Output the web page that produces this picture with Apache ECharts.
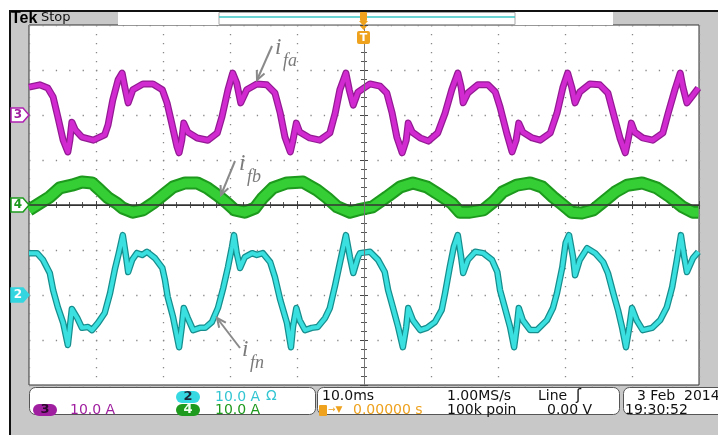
<!DOCTYPE html>
<html><head><meta charset="utf-8">
<script src="https://cdn.jsdelivr.net/npm/echarts@6/dist/echarts.min.js"></script>
<style>html,body{margin:0;padding:0;background:#fff}#c{width:718px;height:435px}</style>
</head><body><div id="c"></div>
<script>
// time axis (ms), trigger at 0, 10 ms/div
const xTicks = [-50, -40, -30, -20, -10, 0, 10, 20, 30, 40, 50];
// channel positions on screen (A, 10 A/div)
const ch3Pos = 20, ch4Pos = 0, ch2Pos = -20;

// i_fa (CH3, magenta)
const tFa = [-50.0,-48.4,-47.2,-46.4,-45.7,-44.9,-44.2,-43.9,-43.6,-43.1,-42.1,-40.4,-38.7,-38.2,-37.5,-36.7,-36.1,-35.7,-35.2,-34.5,-33.0,-31.5,-30.1,-29.4,-28.7,-27.9,-27.6,-27.2,-26.9,-26.3,-24.9,-23.3,-21.9,-21.2,-20.3,-19.6,-19.0,-18.4,-17.5,-16.0,-14.5,-13.3,-12.5,-11.8,-11.0,-10.6,-10.1,-9.6,-8.1,-6.6,-5.1,-4.3,-3.6,-2.7,-2.2,-1.6,-0.9,0.9,2.4,3.4,4.2,4.9,5.7,6.3,6.6,7.2,8.4,9.6,11.0,12.1,13.1,14.0,14.5,14.8,15.5,17.0,18.5,19.6,20.3,21.3,22.1,22.7,23.1,23.7,25.1,26.3,27.8,28.8,29.7,30.4,31.0,31.5,32.2,33.7,35.2,36.4,37.2,38.2,39.0,39.4,39.9,40.4,41.6,43.1,44.6,45.4,46.4,47.2,47.6,48.2,49.1,49.9];
const iFa = [6.2,6.7,6.0,4.0,-0.4,-5.6,-8.2,-5.6,-1.6,-3.3,-4.9,-5.6,-4.4,-2.2,3.3,7.8,9.3,6.2,2.7,5.6,6.9,6.9,5.6,2.7,-1.8,-7.1,-8.4,-5.6,-1.8,-3.8,-5.1,-5.6,-4.0,-0.4,5.6,9.3,7.1,2.7,5.6,6.9,6.7,4.9,0.4,-4.9,-8.2,-5.6,-1.8,-3.8,-5.1,-5.6,-4.0,0.4,5.6,9.3,5.6,2.2,5.1,6.9,6.4,4.9,0.4,-4.9,-8.4,-5.6,-1.8,-3.8,-5.1,-5.8,-4.0,0.4,5.6,9.3,6.2,2.7,4.9,6.7,6.7,5.1,1.8,-4.0,-8.2,-5.6,-1.8,-3.8,-5.1,-5.6,-4.0,0.4,6.2,9.3,6.2,2.7,5.1,6.9,6.7,4.9,0.4,-5.1,-8.4,-5.6,-1.8,-3.8,-5.1,-5.6,-4.0,0.4,5.6,9.3,6.2,2.7,4.4,6.0];

// i_fb (CH4, green)
const tFb = [-50.0,-48.4,-46.9,-45.4,-43.6,-42.1,-40.6,-39.4,-38.2,-36.9,-36.0,-34.5,-33.0,-31.5,-30.0,-28.5,-26.7,-24.9,-23.4,-21.9,-20.4,-19.3,-17.8,-16.3,-15.1,-13.6,-11.5,-9.1,-7.0,-5.5,-4.0,-2.1,-0.9,1.3,3.4,5.4,7.3,9.4,11.3,13.1,14.3,15.8,17.8,19.3,20.7,22.8,24.8,26.6,28.2,29.7,31.0,32.5,34.2,35.7,37.5,39.3,41.5,43.7,45.7,47.5,49.1,49.9];
const iFb = [-1.1,0.4,1.8,3.8,4.4,5.1,4.9,3.3,1.6,0.4,-0.7,-1.6,-1.1,0.4,2.2,4.0,4.9,4.9,3.8,2.2,0.4,-1.1,-1.6,-0.7,1.6,3.8,4.9,5.1,3.3,1.6,-0.4,-1.6,-1.1,-0.4,1.8,4.0,4.9,4.0,2.2,0.4,-1.6,-1.6,-1.1,0.7,2.9,4.4,4.9,4.0,1.8,0.0,-1.6,-1.8,-1.1,0.7,2.9,4.4,4.9,3.8,1.8,-0.4,-1.6,-1.6];

// i_fn (CH2, cyan)
const tFn = [-50.0,-48.8,-47.9,-46.9,-46.4,-45.7,-44.9,-44.2,-43.9,-43.6,-42.8,-42.1,-41.2,-40.6,-39.7,-38.7,-37.9,-37.2,-36.6,-36.0,-35.5,-35.2,-34.6,-33.9,-33.1,-32.4,-31.2,-30.1,-29.7,-29.3,-28.5,-27.6,-27.2,-26.9,-26.3,-25.5,-24.5,-23.7,-22.7,-21.8,-21.0,-20.3,-19.7,-19.4,-19.0,-18.5,-17.8,-16.7,-16.0,-15.1,-14.0,-13.3,-12.5,-11.5,-10.9,-10.6,-10.1,-9.6,-8.8,-7.8,-6.9,-5.8,-5.1,-4.3,-3.6,-2.7,-2.1,-1.6,-0.9,-0.6,0.9,2.1,3.1,3.6,4.3,5.1,5.8,6.3,6.6,7.3,8.4,9.4,10.6,11.6,12.1,12.8,13.4,14.0,14.5,14.8,15.5,16.6,17.8,19.1,19.9,20.3,21.0,21.8,22.4,22.8,23.1,23.7,24.8,25.8,27.3,28.2,28.8,29.6,30.1,30.6,31.2,31.5,32.2,33.3,34.5,35.7,36.4,37.2,37.9,38.5,39.1,39.6,40.0,40.7,41.6,43.0,44.2,45.2,46.0,46.7,47.3,47.8,48.2,49.1,49.9];
const iFn = [9.3,9.3,7.8,4.9,1.1,-2.7,-6.2,-11.1,-7.1,-3.1,-5.1,-7.3,-7.1,-7.8,-6.2,-4.0,0.4,5.6,9.3,13.3,8.4,5.1,7.8,9.3,8.9,9.6,8.2,6.0,3.3,-0.4,-4.9,-11.6,-7.1,-2.9,-5.1,-7.8,-7.3,-7.3,-6.0,-2.9,1.6,6.2,10.7,13.3,9.3,6.0,8.4,9.3,8.9,9.3,7.3,4.0,-1.1,-6.2,-11.6,-7.1,-2.9,-5.6,-7.8,-7.3,-7.1,-5.1,-2.9,2.2,7.1,13.3,8.4,4.9,8.4,9.3,9.6,7.8,5.1,1.1,-2.7,-7.1,-11.6,-7.1,-2.9,-5.6,-7.8,-7.3,-6.0,-3.3,0.4,6.2,10.7,13.3,8.4,4.9,7.8,9.6,9.3,7.8,5.1,1.1,-2.7,-7.1,-11.6,-7.1,-2.9,-5.6,-7.8,-7.8,-5.6,-2.9,0.4,6.2,11.6,13.3,8.4,4.4,7.8,10.4,9.3,7.3,4.9,0.4,-3.3,-7.1,-11.6,-7.1,-2.9,-5.6,-7.8,-7.3,-5.6,-2.7,1.8,7.8,13.3,8.4,5.1,8.2,9.6];

const build = (t, v, off) => t.map((x, i) => [x, v[i] + off]);
const dFa = build(tFa, iFa, ch3Pos), dFb = build(tFb, iFb, ch4Pos), dFn = build(tFn, iFn, ch2Pos);

const ORANGE = '#eea21e';
const FONT = 'DejaVu Sans';

function arrow(x1, y1, x2, y2) {
  const dx = x1 - x2, dy = y1 - y2, L = Math.hypot(dx, dy);
  const ux = dx / L, uy = dy / L, a = 25 * Math.PI / 180, h = 10;
  const p1 = [x2 + h * (ux * Math.cos(a) - uy * Math.sin(a)), y2 + h * (ux * Math.sin(a) + uy * Math.cos(a))];
  const p2 = [x2 + h * (ux * Math.cos(a) + uy * Math.sin(a)), y2 + h * (-ux * Math.sin(a) + uy * Math.cos(a))];
  return [
    { type: 'line', z: 120, shape: { x1, y1, x2, y2 }, style: { stroke: '#8a8a8a', lineWidth: 2 } },
    { type: 'polyline', z: 120, shape: { points: [p1, [x2, y2], p2] }, style: { stroke: '#8a8a8a', lineWidth: 2, fill: null } }
  ];
}
function label(x, y, sub) {
  return [
    { type: 'text', z: 120, style: { text: 'i', x: x, y: y, fill: '#7a7a7a', font: 'italic 23px "Liberation Serif"', textVerticalAlign: 'middle' } },
    { type: 'text', z: 120, style: { text: sub, x: x + 8, y: y + 13, fill: '#7a7a7a', font: 'italic 18px "Liberation Serif"', textVerticalAlign: 'middle' } }
  ];
}
function txt(s, x, y, color, size, extra) {
  return Object.assign({ type: 'text', z: 110, style: { text: s, x, y, fill: color, font: (size || 14) + 'px "' + FONT + '"', textVerticalAlign: 'middle' } }, extra || {});
}
function badge(s, x, y, bg, fg) {
  return [
    { type: 'rect', z: 110, shape: { x: x, y: y - 6, width: 24, height: 12, r: 6 }, style: { fill: bg } },
    { type: 'text', z: 111, style: { text: s, x: x + 12, y: y, fill: fg, font: 'bold 13px "' + FONT + '"', textAlign: 'center', textVerticalAlign: 'middle' } }
  ];
}
function chMarker(s, y, fill, stroke, fg) {
  return [
    { type: 'polygon', z: 110, shape: { points: [[11, y - 7], [23, y - 7], [29, y], [23, y + 7], [11, y + 7]] }, style: { fill: fill, stroke: stroke, lineWidth: 1.5 } },
    { type: 'text', z: 111, style: { text: s, x: 18, y: y, fill: fg, font: 'bold 12px "' + FONT + '"', textAlign: 'center', textVerticalAlign: 'middle' } }
  ];
}

const graphics = [].concat(
  [
    { type: 'rect', z: 1, shape: { x: 0, y: 0, width: 718, height: 11 }, style: { fill: '#fff' } },
    { type: 'rect', z: 1, shape: { x: 0, y: 0, width: 10, height: 435 }, style: { fill: '#fff' } },
    { type: 'rect', z: 2, shape: { x: 9, y: 10, width: 709, height: 2 }, style: { fill: '#111' } },
    { type: 'rect', z: 2, shape: { x: 9, y: 10, width: 2, height: 425 }, style: { fill: '#111' } },
    { type: 'rect', z: 2, shape: { x: 118, y: 12, width: 495, height: 13 }, style: { fill: '#fff' } },
    { type: 'rect', z: 3, shape: { x: 219, y: 12.5, width: 296, height: 12 }, style: { fill: '#fff', stroke: '#a8a8a8', lineWidth: 1 } },
    { type: 'line', z: 4, shape: { x1: 219, y1: 17, x2: 515, y2: 17 }, style: { stroke: '#3cc6c6', lineWidth: 1.5 } },
    { type: 'text', z: 5, style: { text: 'Tek', x: 11, y: 18.5, fill: '#000', font: 'bold 16px "Liberation Sans"', textVerticalAlign: 'middle' } },
    { type: 'text', z: 5, style: { text: 'Stop', x: 41, y: 18, fill: '#111', font: '13px "DejaVu Sans"', textVerticalAlign: 'middle' } },
    // trigger markers
    { type: 'rect', z: 6, shape: { x: 360, y: 12, width: 7, height: 9, r: 1 }, style: { fill: ORANGE } },
    { type: 'polygon', z: 6, shape: { points: [[359, 21], [368, 21], [363.5, 26]] }, style: { fill: ORANGE } },
    { type: 'polygon', z: 110, shape: { points: [[360, 26], [367, 26], [363.5, 30]] }, style: { fill: ORANGE } },
    { type: 'rect', z: 110, shape: { x: 357, y: 31, width: 13, height: 13, r: 2 }, style: { fill: ORANGE } },
    { type: 'text', z: 111, style: { text: 'T', x: 363.5, y: 38, fill: '#fff', font: 'bold 11px "DejaVu Sans"', textAlign: 'center', textVerticalAlign: 'middle' } }
  ],
  chMarker('3', 115, '#fff', '#b020b0', '#a01fa0'),
  chMarker('4', 205, '#fff', '#1c9a1c', '#1c9a1c'),
  chMarker('2', 295, '#33d6e0', '#33d6e0', '#fff'),
  [
    { type: 'rect', z: 100, shape: { x: 29.5, y: 387.5, width: 286, height: 27, r: 6 }, style: { fill: '#fff', stroke: '#555', lineWidth: 1 } },
    { type: 'rect', z: 100, shape: { x: 317.5, y: 387.5, width: 302, height: 27, r: 6 }, style: { fill: '#fff', stroke: '#555', lineWidth: 1 } },
    { type: 'rect', z: 100, shape: { x: 623.5, y: 387.5, width: 110, height: 27, r: 6 }, style: { fill: '#fff', stroke: '#555', lineWidth: 1 } }
  ],
  badge('2', 176, 397, '#36d8e2', '#1a2a3a'),
  badge('3', 33, 410, '#a01fa0', '#2a0a2a'),
  badge('4', 176, 410, '#1e9a1e', '#f0fff0'),
  [
    txt('10.0 A', 215, 397, '#33c6d2'),
    txt('Ω', 266, 396, '#33c6d2'),
    txt('10.0 A', 70, 410, '#a01fa0'),
    txt('10.0 A', 215, 410, '#1e9a1e'),
    txt('10.0ms', 322, 396, '#111'),
    { type: 'rect', z: 111, shape: { x: 319, y: 405, width: 8, height: 11, r: 1 }, style: { fill: ORANGE } },
    txt('→▼', 328, 410, ORANGE, 9),
    txt('0.00000 s', 353, 410, ORANGE),
    txt('1.00MS/s', 447, 396, '#111'),
    txt('100k poin', 447, 410, '#111'),
    txt('Line', 538, 396, '#111'),
    txt('ʃ', 576, 396, '#111', 15, {}),
    txt('0.00 V', 547, 410, '#111'),
    txt('3 Feb  2014', 637, 396, '#111'),
    txt('19:30:52', 625, 410, '#111')
  ],
  arrow(272, 46, 257, 80), label(275, 48, 'fa'),
  arrow(235, 161, 221, 195), label(239, 164, 'fb'),
  arrow(240, 348, 217, 318), label(242, 350, 'fn')
);

const axisCommon = {
  type: 'value', axisLabel: { show: false },
  axisLine: { show: true, lineStyle: { color: '#333', width: 1 } },
  axisTick: { show: true, inside: true, length: 4, lineStyle: { color: '#444' } },
  minorTick: { show: true, splitNumber: 5, length: 3, lineStyle: { color: '#555' } }
};

const chart = echarts.init(document.getElementById('c'), null, { renderer: 'canvas' });
chart.setOption({
  animation: false,
  backgroundColor: '#c8c8c8',
  grid: { left: 29, top: 25, width: 670, height: 360, show: true, backgroundColor: '#fff', borderColor: '#333', borderWidth: 1 },
  xAxis: [
    Object.assign({}, axisCommon, { position: 'bottom', min: xTicks[0], max: xTicks[xTicks.length - 1], interval: 10,
      splitLine: { show: true, lineStyle: { color: '#888', type: [1.3, 7.7], width: 1.3 } } }),
    Object.assign({}, axisCommon, { position: 'top', min: xTicks[0], max: xTicks[xTicks.length - 1], interval: 10, splitLine: { show: false } })
  ],
  yAxis: [
    Object.assign({}, axisCommon, { position: 'left', min: -40, max: 40, interval: 10,
      splitLine: { show: true, lineStyle: { color: '#888', type: [1.3, 12.1], width: 1.3 } } }),
    Object.assign({}, axisCommon, { position: 'right', min: -40, max: 40, interval: 10, splitLine: { show: false } })
  ],
  series: [
    { type: 'line', data: dFb, showSymbol: false, z: 3, lineStyle: { color: '#1d9a1d', width: 13, join: 'round' } },
    { type: 'line', data: dFb, showSymbol: false, z: 3, lineStyle: { color: '#35cf35', width: 9, join: 'round' } },
    { type: 'line', data: dFa, showSymbol: false, z: 4, lineStyle: { color: '#941a94', width: 7, join: 'round' } },
    { type: 'line', data: dFa, showSymbol: false, z: 4, lineStyle: { color: '#d02ad0', width: 4.5, join: 'round' } },
    { type: 'line', data: dFn, showSymbol: false, z: 4, lineStyle: { color: '#178e8e', width: 6.5, join: 'round' } },
    { type: 'line', data: dFn, showSymbol: false, z: 4, lineStyle: { color: '#3ae0e0', width: 4, join: 'round' } },
    { type: 'line', data: [], z: 6, markLine: { silent: true, symbol: 'none', label: { show: false },
      data: [ { yAxis: 0, lineStyle: { color: '#333', width: 1.5, type: 'solid' } },
              { xAxis: 0, lineStyle: { color: '#777', width: 1, type: 'solid' } } ] } }
  ],
  graphic: graphics
});
</script>
</body></html>
